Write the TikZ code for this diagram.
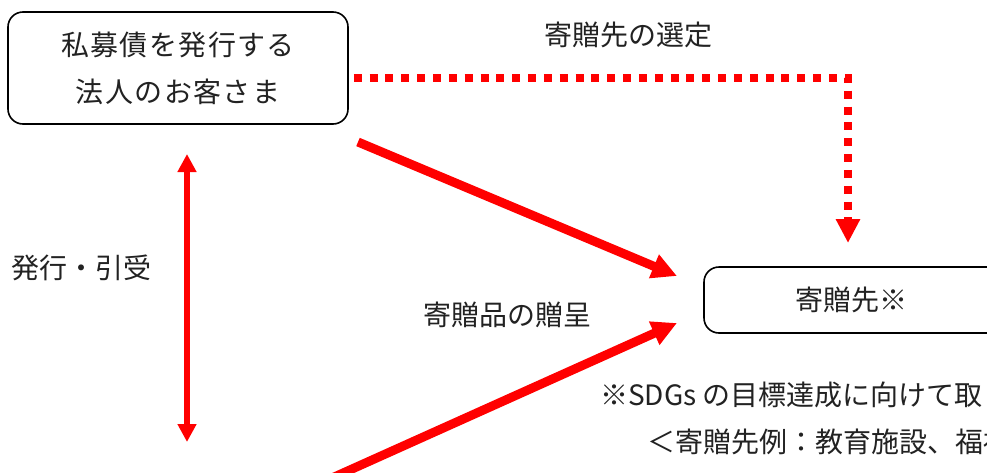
\documentclass[tikz,border=0pt]{standalone}
\usepackage{fontspec}
\setmainfont{Noto Sans CJK JP}
\newfontfamily\cjkwide{Noto Sans CJK JP}[LetterSpace=5]
\usetikzlibrary{arrows.meta}
\definecolor{txt}{HTML}{222222}
\begin{document}
\begin{tikzpicture}[x=1pt,y=-1pt,
  box/.style={draw=black, line width=1.6pt, rounded corners=15pt, inner sep=0pt, text=txt},
  lbl/.style={inner sep=0pt, text=txt, font=\fontsize{28}{30}\selectfont},
  thick arrow/.style={draw=red, line width=9pt, -{Triangle[length=25pt,width=24pt]}},
  both arrow/.style={draw=red, line width=6pt, {Triangle[length=18pt,width=18pt]}-{Triangle[length=18pt,width=18pt]}},
  dot arrow/.style={draw=red, line width=8pt, dash pattern=on 8pt off 7.84pt, -{Triangle[length=24pt,width=23pt]}}
]
\useasboundingbox (0,0) rectangle (987,472);
\clip (0,0) rectangle (987,472);
\fill[white] (0,0) rectangle (987,472);

% boxes
\node[box, minimum width=340pt, minimum height=112pt, align=center,
      font=\cjkwide\fontsize{28}{47}\selectfont] (A) at (178,68) {私募債を発行する\\法人のお客さま};
\node[box, minimum width=302pt, minimum height=66pt,
      font=\fontsize{28}{30}\selectfont] (B) at (855,300) {\hspace*{-8pt}寄贈先※};

% labels
\node[lbl] (l1) at (628,35) {寄贈先の選定};
\node[lbl] (l2) at (81,268) {発行・引受};
\node[lbl] (l3) at (507,315) {寄贈品の贈呈};
\node[lbl, anchor=west] (n1) at (600,395) {※SDGs の目標達成に向けて取};
\node[lbl, anchor=west] (n2) at (647,442) {＜寄贈先例：教育施設、福祉};

% coordinates
\coordinate (d0) at ([shift={(5,10)}]A.east);
\coordinate (d1) at (848,78);
\coordinate (d2) at (848,243);
\coordinate (u0) at (358,142);
\coordinate (u1) at (677,276);
\coordinate (w0) at (332,478);
\coordinate (w1) at (677,323);
\coordinate (v0) at (187,154);
\coordinate (v1) at (187,442);

% connectors
\draw[dot arrow] (d0) -- (d1) -- (d2);
\draw[thick arrow] (u0) -- (u1);
\draw[thick arrow] (w0) -- (w1);
\draw[both arrow] (v0) -- (v1);
\end{tikzpicture}
\end{document}
